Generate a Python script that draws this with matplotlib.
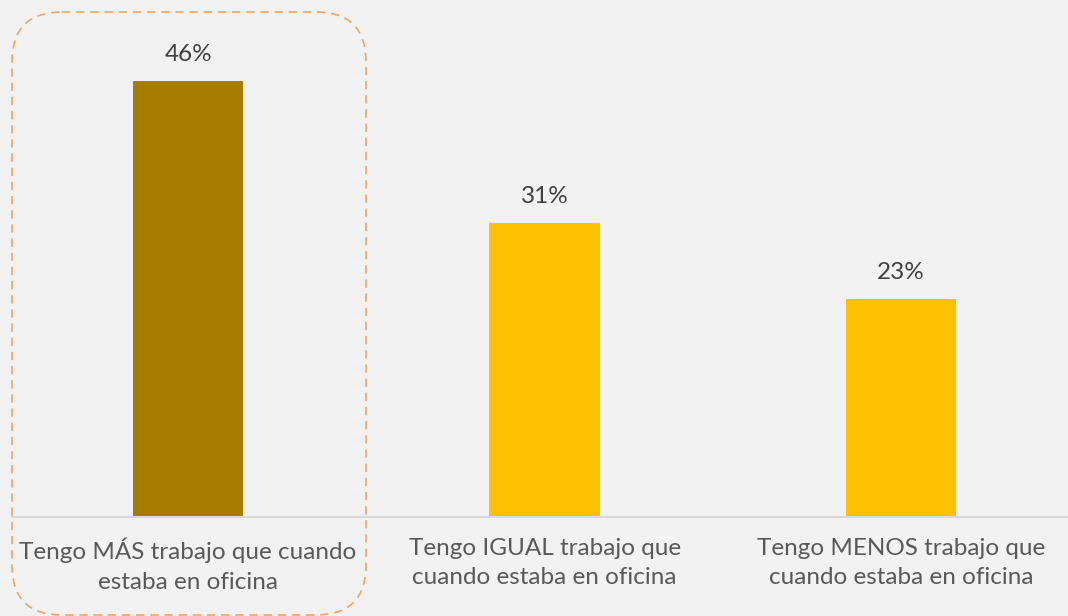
import matplotlib.pyplot as plt
from matplotlib.patches import FancyBboxPatch

# Data
categories = ["Tengo MÁS trabajo que cuando\nestaba en oficina",
              "Tengo IGUAL trabajo que\ncuando estaba en oficina",
              "Tengo MENOS trabajo que\ncuando estaba en oficina"]
values = [46, 31, 23]
colors = ["#A67C00", "#FFC000", "#FFC000"]

plt.rcParams['font.family'] = ['Lato', 'DejaVu Sans']
bg = "#F2F2F2"

fig = plt.figure(figsize=(10.68, 6.16), dpi=100, facecolor=bg)
ax = fig.add_axes([12 / 1068, 99 / 616, 1056 / 1068, 517 / 616])
ax.set_facecolor(bg)

x = list(range(len(values)))
bars = ax.bar(x, values, width=0.31, color=colors)
ax.set_xlim(-0.494, 2.468)
ax.set_ylim(0, 54.5)

for xi, v in zip(x, values):
    ax.annotate(f"{v}%", (xi, v), xytext=(0, 19), textcoords="offset points",
                ha="center", va="center", fontsize=17.5, color="#404040")

ax.set_xticks(x)
ax.set_xticklabels(categories, fontsize=17.5, color="#595959", linespacing=1.5)
ax.tick_params(axis="x", length=0, pad=15)
ax.set_yticks([])
for s in ["top", "right", "left"]:
    ax.spines[s].set_visible(False)
ax.spines["bottom"].set_color("#D9D9D9")
ax.spines["bottom"].set_linewidth(1.5)

# Highlight box around first category
over = fig.add_axes([0, 0, 1, 1], facecolor="none")
over.set_xlim(0, 1068)
over.set_ylim(616, 0)
over.axis("off")
box = FancyBboxPatch((12, 12), 354, 603, boxstyle="round,pad=0,rounding_size=50",
                     fill=False, edgecolor="#F4A460", linewidth=1.2,
                     linestyle=(0, (5, 3.5)))
over.add_patch(box)

fig.savefig("out.png", dpi=100, facecolor=bg)
